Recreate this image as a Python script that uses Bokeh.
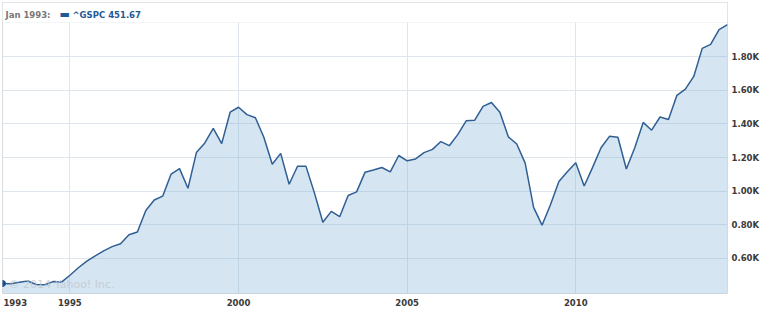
from bokeh.plotting import figure
from bokeh.models import FixedTicker, Range1d, Label, ColumnDataSource, BoxAnnotation
from bokeh.embed import file_html
from bokeh.resources import INLINE

# quarterly closes, Jan 1993 .. Jul 2014
start_year = 1993.0
values = [
    451.67, 450.5, 458.9, 466.5,
    445.8, 444.3, 462.7, 459.3,
    500.7, 544.8, 584.4, 615.9,
    645.5, 670.6, 687.3, 740.7,
    757.1, 885.1, 947.3, 970.4,
    1101.8, 1133.8, 1017.0, 1229.2,
    1286.4, 1372.7, 1282.7, 1469.3,
    1498.6, 1454.6, 1436.5, 1320.3,
    1160.3, 1224.4, 1040.9, 1148.1,
    1147.4, 989.8, 815.3, 879.8,
    848.2, 974.5, 996.0, 1111.9,
    1126.2, 1140.8, 1114.6, 1211.9,
    1180.6, 1191.3, 1228.8, 1248.3,
    1294.8, 1270.2, 1335.9, 1418.3,
    1420.9, 1503.4, 1526.8, 1468.4,
    1322.7, 1280.0, 1166.4, 903.3,
    797.9, 919.3, 1057.1, 1115.1,
    1169.4, 1030.7, 1141.2, 1257.6,
    1325.8, 1320.6, 1131.4, 1257.6,
    1408.5, 1362.2, 1440.7, 1426.2,
    1569.2, 1606.3, 1681.6, 1848.4,
    1872.3, 1960.2, 1990.0,
]
x_ticks = [1993, 1995, 2000, 2005, 2010]
x_tick_labels = ["1993", "1995", "2000", "2005", "2010"]
x_grid_ticks = [1995, 2000, 2005, 2010]
y_ticks = [600, 800, 1000, 1200, 1400, 1600, 1800]
y_tick_labels = ["0.60K", "0.80K", "1.00K", "1.20K", "1.40K", "1.60K", "1.80K"]
header_date = "Jan 1993:"
header_series = "^GSPC 451.67"

xs = [start_year + i * 0.25 for i in range(len(values))]
src = ColumnDataSource(dict(x=xs, y=values, base=[0] * len(values)))

LINE = "#2f5f93"
BLUE = "#1f5a96"
GRID = "#dfe5ec"
BORDER = "#d9dde2"
LABEL_COLOR = "#3a3a3a"
FONT = "DejaVu Sans"
FS = "8.5px"

# frame spans canvas y = 2 .. 293; the top strip (above 2002) holds the header
Y_MIN, Y_MAX, HEADER_BOTTOM = 392, 2121, 2002

p = figure(width=770, height=310, output_backend="svg", toolbar_location=None,
           x_range=Range1d(xs[0], xs[-1]), y_range=Range1d(Y_MIN, Y_MAX),
           y_axis_location="right",
           min_border_left=2, min_border_right=43, min_border_top=2, min_border_bottom=17)
p.background_fill_color = "white"
p.border_fill_color = "white"
p.outline_line_color = BORDER

p.xgrid.ticker = FixedTicker(ticks=x_grid_ticks)
p.ygrid.ticker = FixedTicker(ticks=y_ticks)
for g in (p.xgrid, p.ygrid):
    g.grid_line_color = GRID
    g.grid_line_width = 1

p.varea(x="x", y1="base", y2="y", source=src, fill_color="#73a8d0", fill_alpha=0.3)
p.line(x="x", y="y", source=src, line_color=LINE, line_width=1.5)
p.scatter(x=xs[:1], y=values[:1], size=6, color="#1f4f85")

# first tick label sits at the left edge (Bokeh keeps it inside the canvas);
# one no-break space nudges it off the edge like the reference
overrides = {t: l for t, l in zip(x_ticks, x_tick_labels)}
overrides[x_ticks[0]] = "\u00a0" + x_tick_labels[0]
p.xaxis.ticker = FixedTicker(ticks=x_ticks)
p.xaxis.major_label_overrides = overrides
p.yaxis.ticker = FixedTicker(ticks=y_ticks)
p.yaxis.major_label_overrides = {t: l for t, l in zip(y_ticks, y_tick_labels)}
for ax in (p.xaxis[0], p.yaxis[0]):
    ax.axis_line_color = None
    ax.major_tick_line_color = None
    ax.minor_tick_line_color = None
    ax.major_tick_out = 0
    ax.major_tick_in = 0
    ax.minor_tick_out = 0
    ax.minor_tick_in = 0
    ax.major_label_text_font = FONT
    ax.major_label_text_font_style = "bold"
    ax.major_label_text_font_size = FS
    ax.major_label_text_color = LABEL_COLOR
p.yaxis.major_label_standoff = 4
p.xaxis.major_label_standoff = 4

p.add_layout(Label(x=6, y=9, x_units="screen", y_units="screen", text="© 2014 Yahoo! Inc.",
                   text_font=FONT, text_font_size="11px", text_color="#bfc7ce",
                   text_alpha=0.8, text_baseline="middle"))

# header strip
p.add_layout(BoxAnnotation(bottom=HEADER_BOTTOM, fill_color="white", fill_alpha=1,
                           line_color=BORDER, line_width=1))
p.add_layout(Label(x=3, y=279, x_units="screen", y_units="screen", text=header_date,
                   text_font=FONT, text_font_style="bold", text_font_size=FS,
                   text_color="#777777", text_baseline="middle"))
p.add_layout(Label(x=57, y=279, x_units="screen", y_units="screen", text="▬",
                   text_font=FONT, text_font_size="11px",
                   text_color=BLUE, text_baseline="middle"))
p.add_layout(Label(x=70, y=279, x_units="screen", y_units="screen", text=header_series,
                   text_font=FONT, text_font_style="bold", text_font_size=FS,
                   text_color=BLUE, text_baseline="middle"))

open("out.html", "w").write(file_html(p, INLINE))
